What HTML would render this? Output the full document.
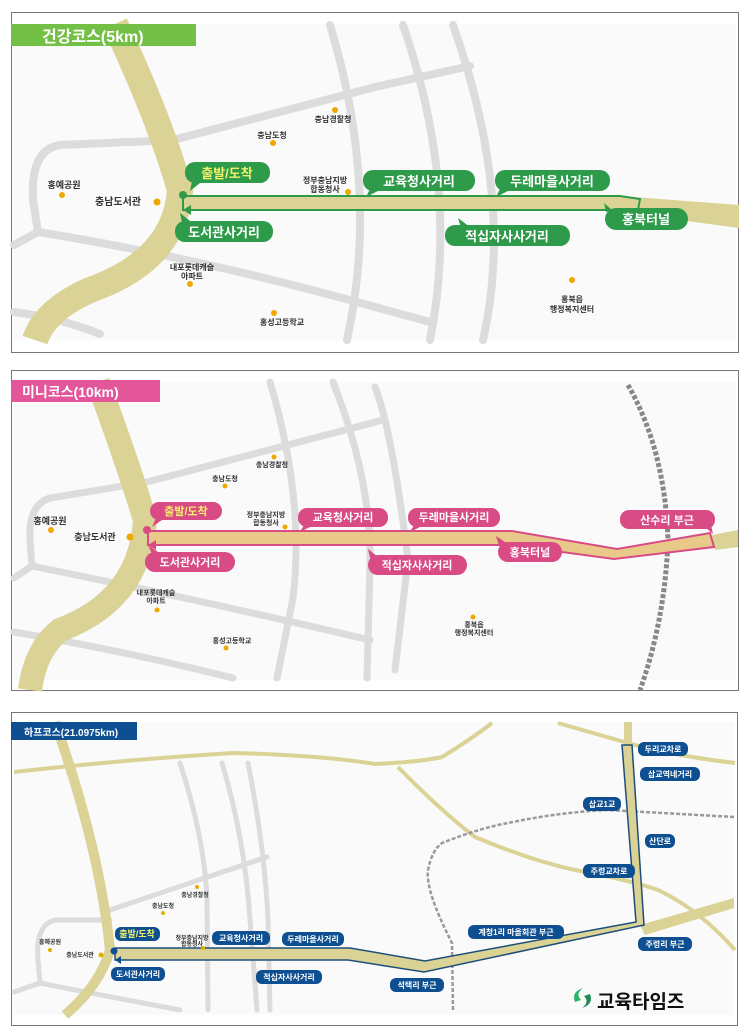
<!DOCTYPE html>
<html><head><meta charset="utf-8"><style>
body{margin:0;background:#fff;width:750px;height:1035px;overflow:hidden}
svg{display:block}
text{font-family:"Liberation Sans","Noto Sans CJK KR",sans-serif;font-weight:bold}
</style></head><body>
<svg width="750" height="1035" viewBox="0 0 750 1035" xmlns="http://www.w3.org/2000/svg">
<rect width="750" height="1035" fill="#fff"/>
<!-- PANEL 1 -->
<rect x="11.5" y="12.5" width="727" height="340" fill="#fff" stroke="#777"/>
<rect x="14" y="24" width="722" height="316" fill="#fafafa"/>
<g fill="none" stroke="#dcdcdc" stroke-width="8" stroke-linecap="round">
<path d="M14 312 Q60 318 100 334"/>
<path d="M175 140 L60 145 Q30 150 33 200 L38 232"/>
<path d="M38 232 L14 245"/>
<path d="M38 232 Q200 258 375 307 L430 322"/>
<path d="M173 140 L375 87 L470 66"/>
<path d="M330 25 Q380 190 347 340"/>
<path d="M403 25 Q460 190 430 340"/>
<path d="M453 25 Q515 200 483 340"/>
</g>
<path d="M115 24 Q160 120 180 190 Q175 260 90 290 Q45 310 35 340" fill="none" stroke="#dbd295" stroke-width="26"/>
<path d="M620 196 L739 205 L739 228 L620 212Z" fill="#dbd295"/>
<path d="M183 196 L620 196 L640 199 L638 210 L183 210Z" fill="#dbd295" stroke="#2e9b4a" stroke-width="2"/>
<path d="M183 210 l8 -5 v10z" fill="#2e9b4a"/>
<circle cx="183" cy="195" r="4" fill="#2e9b4a"/>
<rect x="11" y="24" width="185" height="22" fill="#74bf45"/>
<text x="42" y="42" font-size="16" fill="#fff">건강코스(5km)</text>
<g fill="#f0a800">
<circle cx="335" cy="110" r="3"/><circle cx="273" cy="143" r="3"/><circle cx="62" cy="195" r="3"/><circle cx="157" cy="202" r="3.5"/><circle cx="348" cy="192" r="3"/><circle cx="190" cy="284" r="3"/><circle cx="274" cy="313" r="3"/><circle cx="572" cy="280" r="3"/>
</g>
<g font-size="8" fill="#333" text-anchor="middle">
<text x="333" y="122">충남경찰청</text><text x="272" y="138">충남도청</text><text x="64" y="188" font-size="9">홍예공원</text><text x="118" y="205" font-size="10">충남도서관</text>
<text x="325" y="183">정부충남지방</text><text x="325" y="192">합동청사</text><text x="192" y="270">내포롯데캐슬</text><text x="192" y="279">아파트</text><text x="282" y="325">홍성고등학교</text><text x="572" y="302">홍북읍</text><text x="572" y="312">행정복지센터</text>
</g>
<g fill="#2e9b4a">
<rect x="185" y="162" width="85" height="21" rx="10"/><path d="M192 181 l-2 10 l10 -8z"/>
<rect x="175" y="221" width="98" height="21" rx="10"/><path d="M182 223 l-2 -10 l10 8z"/>
<rect x="363" y="170" width="112" height="21" rx="10"/><path d="M370 189 l-4 8 l12 -6z"/>
<rect x="495" y="170" width="115" height="21" rx="10"/><path d="M500 189 l-4 8 l12 -6z"/>
<rect x="445" y="225" width="125" height="21" rx="10"/><path d="M470 227 l-12 -9 l3 10z"/>
<rect x="605" y="208" width="83" height="22" rx="11"/><path d="M612 210 l-8 -7 l2 9z"/>
</g>
<g font-size="13" fill="#fff" text-anchor="middle">
<text x="227" y="178" fill="#f4f26a">출발/도착</text><text x="224" y="237">도서관사거리</text><text x="419" y="186">교육청사거리</text><text x="552" y="186">두레마을사거리</text><text x="507" y="241">적십자사사거리</text><text x="646" y="224">홍북터널</text>
</g>
<!-- PANEL 2 -->
<rect x="11.5" y="370.5" width="727" height="320" fill="#fff" stroke="#777"/>
<rect x="14" y="382" width="722" height="298" fill="#fafafa"/>
<g fill="none" stroke="#dcdcdc" stroke-width="7" stroke-linecap="round">
<path d="M14 632 Q120 650 233 678"/>
<path d="M147 482 L50 498 Q28 505 30 540 L32 566"/>
<path d="M32 566 L14 578"/>
<path d="M32 566 Q200 600 370 640"/>
<path d="M147 482 L383 420"/>
<path d="M270 382 Q305 500 293 598 L277 678"/>
<path d="M333 382 Q372 480 370 565 L367 678"/>
<path d="M375 387 Q392 430 408 560 L395 670"/>
</g>
<path d="M628 385 Q665 450 668 540 Q665 620 640 690" fill="none" stroke="#888" stroke-width="5" stroke-dasharray="4 2"/>
<path d="M98 382 Q130 470 145 520 Q140 600 60 630 Q35 650 30 690" fill="none" stroke="#dbd295" stroke-width="24"/>
<path d="M712 535 L738 530 L738 547 L715 550Z" fill="#dbd295"/>
<path d="M148 531 L512 531 L617 549 L710 533 L714 547 L614 559 L510 545 L148 545Z" fill="#e8c98a" stroke="#d94b84" stroke-width="2"/>
<path d="M148 545 l8 -5 v10z" fill="#d94b84"/>
<circle cx="147" cy="530" r="4" fill="#d94b84"/>
<rect x="11" y="380" width="149" height="22" fill="#e4569a"/>
<text x="22" y="397" font-size="14" fill="#fff">미니코스(10km)</text>
<g fill="#f0a800">
<circle cx="274" cy="457" r="2.5"/><circle cx="225" cy="486" r="2.5"/><circle cx="51" cy="530" r="3"/><circle cx="130" cy="537" r="3.5"/><circle cx="285" cy="527" r="2.5"/><circle cx="157" cy="610" r="2.5"/><circle cx="226" cy="648" r="2.5"/><circle cx="473" cy="617" r="2.5"/>
</g>
<g font-size="7" fill="#333" text-anchor="middle">
<text x="272" y="467">충남경찰청</text><text x="225" y="481">충남도청</text><text x="50" y="524" font-size="9">홍예공원</text><text x="95" y="540" font-size="9">충남도서관</text>
<text x="266" y="517">정부충남지방</text><text x="266" y="525">합동청사</text><text x="156" y="595">내포롯데캐슬</text><text x="156" y="603">아파트</text><text x="232" y="643">홍성고등학교</text><text x="474" y="627">홍북읍</text><text x="474" y="635">행정복지센터</text>
</g>
<g fill="#d94b84">
<rect x="150" y="502" width="72" height="18" rx="9"/><path d="M156 518 l-4 9 l10 -7z"/>
<rect x="145" y="552" width="90" height="20" rx="10"/><path d="M152 554 l-4 -9 l10 7z"/>
<rect x="298" y="508" width="90" height="19" rx="9"/><path d="M304 525 l-4 7 l10 -5z"/>
<rect x="408" y="508" width="92" height="19" rx="9"/><path d="M414 525 l-4 7 l10 -5z"/>
<rect x="368" y="555" width="99" height="20" rx="10"/><path d="M378 557 l-10 -8 l2 9z"/>
<rect x="498" y="542" width="64" height="20" rx="10"/><path d="M508 544 l-12 -8 l3 10z"/>
<rect x="620" y="510" width="95" height="19" rx="9"/><path d="M705 527 l8 7 l-2 -9z"/>
</g>
<g font-size="11" fill="#fff" text-anchor="middle">
<text x="186" y="515" fill="#f4f26a">출발/도착</text><text x="190" y="566">도서관사거리</text><text x="343" y="521">교육청사거리</text><text x="454" y="521">두레마을사거리</text><text x="417" y="569">적십자사사거리</text><text x="530" y="556">홍북터널</text><text x="667" y="524">산수리 부근</text>
</g>
<!-- PANEL 3 -->
<rect x="11.5" y="712.5" width="726" height="313" fill="#fff" stroke="#777"/>
<rect x="14" y="722" width="720" height="293" fill="#fafafa"/>
<g fill="none" stroke="#dcdcdc" stroke-width="5" stroke-linecap="round">
<path d="M110 920 L55 920 Q35 925 38 960 L40 983"/>
<path d="M40 983 L14 992"/>
<path d="M40 983 Q100 995 180 1010"/>
<path d="M110 910 L267 857"/>
<path d="M180 763 Q205 840 207 900 L208 1010"/>
<path d="M222 763 Q245 840 250 920 L257 1010"/>
<path d="M248 763 Q265 850 268 920 L270 1010"/>
</g>
<g fill="none" stroke="#dbd295" stroke-width="4">
<path d="M14 772 Q120 760 233 753 Q320 755 375 764 Q420 762 442 757 Q470 740 492 723"/>
<path d="M398 767 Q440 810 475 837 Q530 860 575 870 Q630 880 658 890 Q700 910 735 950"/>
<path d="M558 723 Q600 735 642 747 Q690 758 735 763"/>
</g>
<path d="M453 1010 L452 943 Q425 890 428 870 Q432 850 442 843 Q480 828 508 823 Q560 812 608 810 L735 817" fill="none" stroke="#999" stroke-width="2.5" stroke-dasharray="4 2"/>
<path d="M640 925 L734 898 L734 908 L645 935Z" fill="#dbd295"/>
<path d="M624 722 L632 722 L632 745 L624 745Z" fill="#dbd295"/>
<path d="M55 722 Q100 850 110 950 Q100 985 65 1015" fill="none" stroke="#dbd295" stroke-width="10"/>
<path d="M115 948 L350 948 L425 961 L636 922 L622 745 L632 745 L644 925 L424 972 L348 960 L115 960Z" fill="#dbd295" stroke="#1d4e7c" stroke-width="1.5"/>
<path d="M115 960 l6 -4 v8z" fill="#0d4f91"/>
<circle cx="114" cy="951" r="3.5" fill="#0d4f91"/>
<rect x="11" y="722" width="126" height="18" fill="#0d4f91"/>
<text x="24" y="736" font-size="10" fill="#fff">하프코스(21.0975km)</text>
<g fill="#e0b000">
<circle cx="197" cy="887" r="2"/><circle cx="163" cy="913" r="2"/><circle cx="50" cy="950" r="2"/><circle cx="101" cy="955" r="2.5"/><circle cx="203" cy="948" r="2"/>
</g>
<g font-size="6" fill="#333" text-anchor="middle">
<text x="195" y="897">충남경찰청</text><text x="163" y="908">충남도청</text><text x="50" y="944">홍예공원</text><text x="80" y="957">충남도서관</text><text x="192" y="940">정부충남지방</text><text x="192" y="946">합동청사</text>
</g>
<g fill="#0d4f91">
<rect x="115" y="927" width="45" height="14" rx="6"/>
<rect x="111" y="967" width="54" height="14" rx="6"/>
<rect x="212" y="931" width="58" height="14" rx="6"/>
<rect x="282" y="932" width="62" height="14" rx="6"/>
<rect x="256" y="970" width="66" height="14" rx="6"/>
<rect x="390" y="978" width="54" height="14" rx="6"/>
<rect x="468" y="925" width="96" height="14" rx="6"/>
<rect x="638" y="937" width="54" height="14" rx="6"/>
<rect x="638" y="742" width="50" height="14" rx="6"/>
<rect x="640" y="767" width="60" height="14" rx="6"/>
<rect x="583" y="797" width="38" height="14" rx="6"/>
<rect x="645" y="834" width="30" height="14" rx="6"/>
<rect x="583" y="864" width="52" height="14" rx="6"/>
</g>
<g font-size="8" fill="#fff" text-anchor="middle">
<text x="137" y="937" fill="#f4f26a" font-size="9">출발/도착</text><text x="138" y="977">도서관사거리</text><text x="241" y="941">교육청사거리</text><text x="313" y="942">두레마을사거리</text><text x="289" y="980">적십자사사거리</text><text x="417" y="988">석택리 부근</text><text x="516" y="935">계청1리 마을회관 부근</text><text x="665" y="947">주령리 부근</text><text x="663" y="752">두리교차로</text><text x="670" y="777">삽교역네거리</text><text x="602" y="807">삽교1교</text><text x="660" y="844">산단로</text><text x="609" y="874">주령교차로</text>
</g>
<path d="M575 1002 q-4 -10 8 -14 q-8 6 -2 12z" fill="#2fb36a"/>
<path d="M590 994 q4 10 -8 14 q8 -6 2 -12z" fill="#1f8a55"/>
<text x="597" y="1008" font-size="19" fill="#111">교육타임즈</text>
</svg>
</body></html>
